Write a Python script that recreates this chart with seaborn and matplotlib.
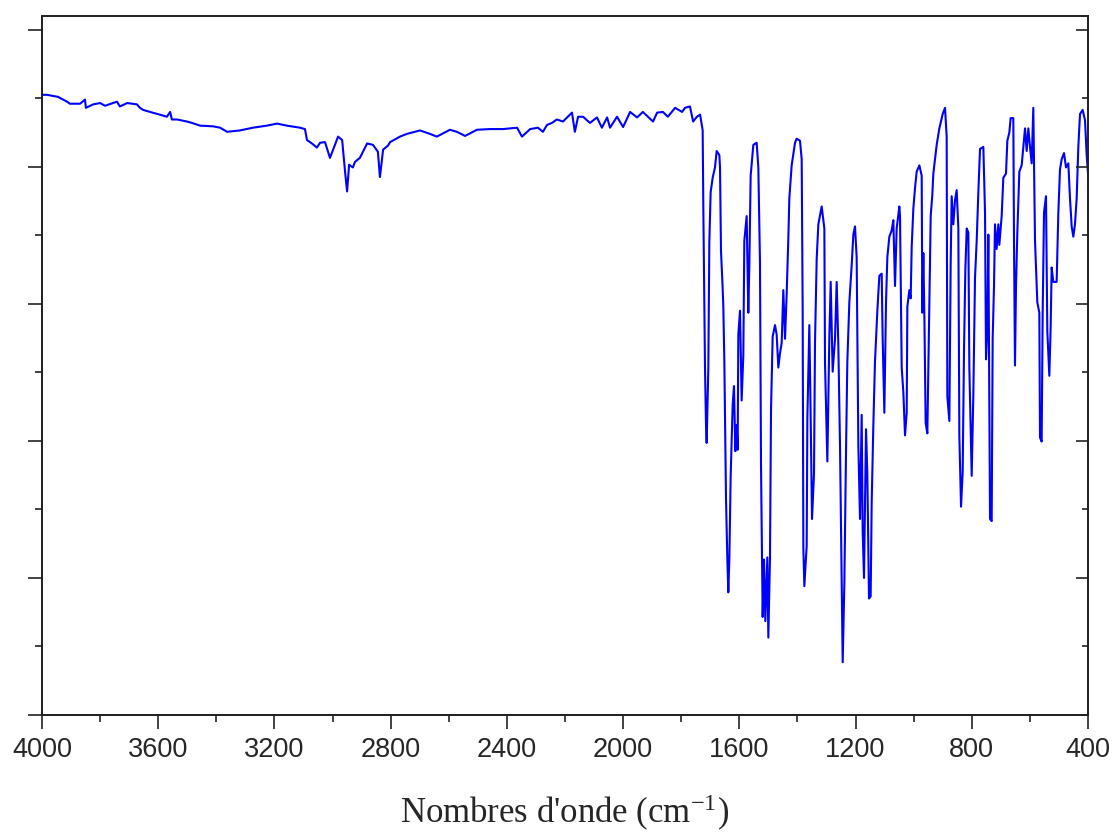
import matplotlib
matplotlib.use('Agg')
import matplotlib.pyplot as plt
import pandas as pd
import seaborn as sns

# IR spectrum (wavenumber in cm-1, transmittance in a.u.)
wn_high = [4000, 3983, 3945, 3914, 3904, 3869, 3852, 3849, 3824, 3800, 3783, 3742, 3732,
           3707, 3673, 3663, 3652, 3628, 3594, 3570, 3559, 3553, 3535, 3501, 3484, 3456,
           3411, 3387, 3363, 3319, 3308, 3274, 3226, 3191, 3157, 3112, 3095, 3088, 3071,
           3054, 3043, 3026, 3009, 2998, 2981, 2967, 2957, 2950, 2943, 2930, 2923, 2906,
           2881, 2861, 2844, 2837, 2826, 2809, 2802, 2768, 2744, 2699, 2665, 2641, 2596,
           2572, 2544, 2503, 2458, 2413, 2365, 2348, 2320, 2293, 2276, 2262, 2245, 2228,
           2207, 2176, 2166, 2155, 2138, 2114, 2090, 2073, 2055, 2045, 2021, 2000, 1976,
           1952, 1932, 1897, 1883, 1863, 1846, 1821, 1797, 1787, 1770, 1759, 1746, 1735]
t_high = [90.5, 90.5, 90.2, 89.5, 89.2, 89.2, 89.8, 88.6, 89.1, 89.3, 88.9, 89.5, 88.8,
          89.3, 89.1, 88.6, 88.3, 88.0, 87.6, 87.3, 88.0, 86.9, 86.9, 86.6, 86.4, 86.0,
          85.9, 85.7, 85.1, 85.3, 85.4, 85.7, 86.0, 86.3, 86.0, 85.7, 85.5, 83.9, 83.4,
          82.8, 83.5, 83.6, 81.3, 82.5, 84.4, 83.9, 79.3, 76.4, 80.3, 79.9, 80.7, 81.3,
          83.4, 83.2, 82.2, 78.5, 82.5, 83.1, 83.6, 84.4, 84.8, 85.3, 84.8, 84.4, 85.4,
          85.1, 84.5, 85.4, 85.5, 85.5, 85.7, 84.4, 85.5, 85.7, 85.1, 86.1, 86.4, 86.9,
          86.6, 87.9, 85.1, 87.3, 87.3, 86.4, 87.2, 85.7, 87.2, 85.7, 87.3, 85.8, 88.0,
          87.2, 88.0, 86.6, 87.9, 88.0, 87.3, 88.6, 88.0, 88.6, 88.8, 86.6, 87.3, 87.6]

wn_low = [1726.2, 1723.9, 1718.2, 1714.7, 1712.4, 1706.7, 1703.3, 1698.7, 1691.8, 1683.8,
          1678.0, 1668.8, 1666.5, 1663.1, 1657.4, 1655.1, 1651.6, 1645.9, 1641.3, 1637.9,
          1634.4, 1629.8, 1622.9, 1618.4, 1613.8, 1609.2, 1605.8, 1603.5, 1597.7, 1592.0,
          1586.3, 1582.8, 1574.8, 1569.1, 1565.6, 1561.0, 1551.8, 1540.4, 1534.6, 1528.9,
          1525.4, 1519.7, 1515.1, 1510.5, 1503.7, 1500.2, 1494.5, 1491.0, 1485.3, 1477.3,
          1471.5, 1465.8, 1460.0, 1454.3, 1448.6, 1442.8, 1437.1, 1431.4, 1427.9, 1419.9,
          1408.4, 1402.7, 1391.2, 1385.4, 1382.0, 1379.7, 1376.3, 1368.2, 1365.9, 1359.1,
          1354.5, 1349.9, 1343.0, 1339.6, 1333.8, 1328.1, 1316.6, 1307.4, 1305.1, 1297.1,
          1290.2, 1285.6, 1278.8, 1270.7, 1265.0, 1259.3, 1253.5, 1247.8, 1244.3, 1238.6,
          1232.9, 1228.3, 1221.4, 1213.4, 1207.6, 1201.9, 1196.2, 1190.4, 1184.7, 1178.9,
          1175.5, 1170.9, 1164.0, 1159.5, 1153.7, 1148.0, 1144.5, 1138.8, 1133.1, 1125.0,
          1118.1, 1110.1, 1106.7, 1100.9, 1095.2, 1090.6, 1083.7, 1075.7, 1070.0, 1064.2,
          1058.5, 1049.3, 1047.0, 1041.2, 1035.5, 1029.8, 1024.0, 1021.7, 1014.9, 1010.3,
          1006.8, 1001.1, 995.4, 989.6, 980.4, 972.4, 970.1, 966.7, 963.2, 958.7,
          952.9, 946.0, 941.4, 935.7, 932.3, 920.8, 911.6, 900.1, 892.1, 886.4,
          884.1, 877.2, 872.6, 869.2, 863.4, 857.7, 852.0, 846.2, 842.8, 837.0,
          831.3, 826.7, 822.1, 817.5, 811.8, 808.4, 800.3, 794.6, 788.9, 783.1,
          777.4, 771.6, 760.2, 754.4, 751.0, 746.4, 743.0, 737.2, 731.5, 728.1,
          723.5, 720.1, 714.4, 708.6, 705.2, 697.1, 691.4, 682.2, 677.6, 670.8,
          666.2, 657.0, 654.7, 651.3, 647.8, 643.2, 636.3, 628.3, 622.6, 616.8,
          611.1, 605.4, 599.6, 593.9, 588.2, 582.4, 574.4, 567.5, 565.2, 559.5,
          556.0, 551.4, 544.6, 540.0, 533.1, 528.5, 525.1, 519.3, 507.9, 502.1,
          496.4, 490.6, 482.6, 475.7, 467.7, 462.0, 456.2, 450.5, 444.8, 439.0,
          433.3, 427.5, 418.4, 410.3, 404.6, 400.0]
t_low = [85.3, 73.9, 50.7, 42.3, 39.7, 50.7, 68.9, 76.3, 78.4, 79.9,
         82.3, 81.7, 79.9, 67.7, 62.3, 59.6, 51.6, 31.6, 22.7, 17.9,
         22.7, 34.9, 45.3, 48.0, 38.5, 42.3, 38.7, 55.5, 59.0, 45.9,
         52.5, 69.2, 72.8, 58.7, 65.6, 78.7, 83.2, 83.5, 79.9, 65.9,
         36.4, 14.3, 22.7, 13.7, 23.0, 11.3, 23.0, 44.4, 55.2, 56.9,
         55.5, 50.7, 52.8, 54.3, 62.0, 54.9, 61.4, 69.5, 75.4, 80.2,
         83.5, 84.1, 83.8, 81.1, 59.0, 24.4, 18.8, 24.7, 43.2, 56.9,
         43.5, 28.6, 35.2, 54.3, 66.5, 71.6, 74.2, 71.0, 51.3, 37.0,
         55.2, 63.2, 50.1, 54.9, 63.2, 54.0, 39.3, 19.1, 7.7, 19.1,
         38.2, 51.6, 60.2, 65.6, 70.1, 71.3, 66.8, 39.3, 28.6, 43.8,
         26.8, 20.0, 41.7, 35.2, 17.0, 17.3, 31.0, 42.3, 51.6, 59.0,
         64.1, 64.4, 54.9, 44.1, 60.2, 66.8, 69.8, 70.7, 72.2, 62.6,
         71.0, 74.2, 72.8, 50.7, 47.1, 40.8, 44.1, 59.6, 62.0, 60.8,
         68.3, 73.9, 76.9, 79.3, 80.2, 78.7, 58.7, 67.4, 58.4, 42.6,
         41.1, 59.6, 72.8, 76.0, 79.0, 83.2, 85.6, 87.7, 88.6, 84.4,
         46.5, 42.9, 65.9, 75.7, 71.6, 75.1, 76.6, 71.0, 40.8, 30.4,
         35.5, 53.4, 65.0, 71.0, 70.4, 50.7, 34.9, 46.8, 63.8, 69.2,
         76.3, 82.6, 82.9, 73.3, 51.9, 56.3, 70.1, 28.6, 28.3, 54.9,
         62.6, 71.6, 68.0, 71.6, 68.6, 72.8, 78.4, 79.0, 83.8, 85.0,
         87.1, 87.1, 69.2, 51.0, 62.6, 70.4, 79.3, 80.2, 82.9, 85.6,
         82.3, 85.6, 82.9, 80.5, 88.6, 69.2, 60.2, 58.7, 40.5, 39.9,
         58.7, 73.3, 75.7, 56.0, 49.5, 56.6, 65.3, 63.2, 63.2, 73.3,
         79.6, 81.1, 82.0, 79.9, 80.5, 75.4, 71.3, 69.8, 71.6, 75.4,
         82.9, 87.7, 88.3, 86.8, 81.7, 79.0]

x_ticks = [4000, 3600, 3200, 2800, 2400, 2000, 1600, 1200, 800, 400]
x_minor = [3800, 3400, 3000, 2600, 2200, 1800, 1400, 1000, 600]
y_major = [0, 20, 40, 60, 80, 100]
y_minor = [10, 30, 50, 70, 90]

sns.set_style('ticks')
plt.rcParams['font.family'] = ['Liberation Serif', 'DejaVu Serif']
plt.rcParams['mathtext.fontset'] = 'custom'
plt.rcParams['mathtext.rm'] = 'Liberation Serif'
plt.rcParams['mathtext.it'] = 'Liberation Serif:italic'

df = pd.DataFrame({'wn': wn_high + wn_low, 't': t_high + t_low})

fig = plt.figure(figsize=(11.13, 8.32), dpi=100)
ax = fig.add_axes([42 / 1113, 1 - 715 / 832, (1088 - 42) / 1113, (715 - 16) / 832])
sns.lineplot(data=df, x='wn', y='t', sort=False, estimator=None,
             color='#0000ff', lw=1.5, ax=ax)

ax.set_xlim(4000, 400)
ax.set_ylim(0, 102)
ax.set_xticks(x_ticks)
ax.set_xticklabels([str(v) for v in x_ticks], fontsize=19.5, family='Liberation Sans')
ax.set_xticks(x_minor, minor=True)
ax.set_yticks(y_major)
ax.set_yticks(y_minor, minor=True)
ax.tick_params(axis='x', which='major', direction='out', length=10, width=1.2, pad=6, color='#222222')
ax.tick_params(axis='x', which='minor', direction='out', length=5, width=1.2, color='#222222')
ax.tick_params(axis='y', which='major', direction='out', length=10, width=1.2,
               labelleft=False, right=False, color='#222222')
ax.tick_params(axis='y', which='minor', direction='out', length=5, width=1.2,
               labelleft=False, right=False, color='#222222')

# right-hand ticks point inwards
ax2 = ax.twinx()
ax2.set_ylim(0, 102)
ax2.set_yticks(y_major)
ax2.set_yticks(y_minor, minor=True)
ax2.tick_params(axis='y', which='major', direction='in', length=9, width=1.2,
                labelright=False, color='#222222')
ax2.tick_params(axis='y', which='minor', direction='in', length=4, width=1.2,
                labelright=False, color='#222222')

for a in (ax, ax2):
    for s in a.spines.values():
        s.set_linewidth(1.3)
        s.set_color('#222222')

ax.set_ylabel('')
ax.set_xlabel("Nombres d'onde (cm$^{-1}$)", fontsize=25)
ax.xaxis.set_label_coords(0.5, -0.111)

fig.savefig('out.png', dpi=100)
